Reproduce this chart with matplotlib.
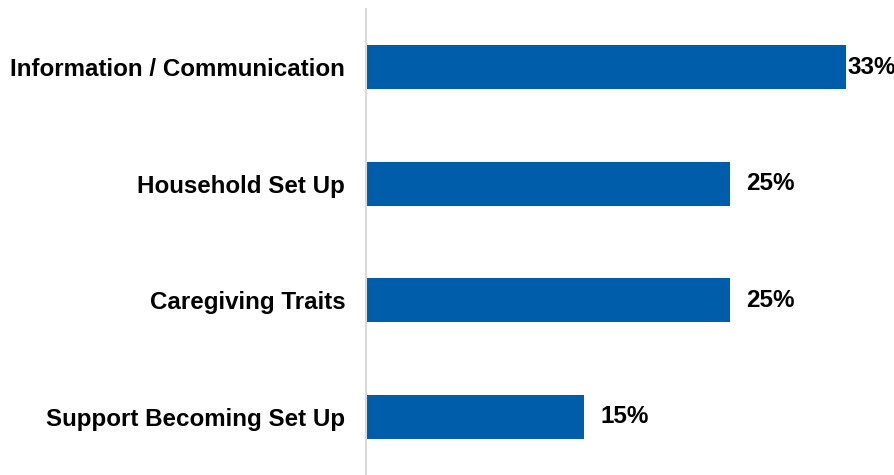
import matplotlib.pyplot as plt

plt.rcParams['font.family'] = ['Liberation Sans', 'DejaVu Sans']

categories = ["Information / Communication", "Household Set Up",
              "Caregiving Traits", "Support Becoming Set Up"]
values = [33, 25, 25, 15]
labels = ["33%", "25%", "25%", "15%"]

fig = plt.figure(figsize=(8.95, 4.75), dpi=100)
ax = fig.add_axes([366 / 895, 0, 529 / 895, 466 / 475])

pos = range(len(categories))
ax.barh(pos, values, height=0.376, color="#005DAA")

# value labels right of each bar; the widest one sits right against its bar
for i, (v, lab) in enumerate(zip(values, labels)):
    off = 0.1 if v == max(values) else 1.1
    ax.text(v + off, i, lab, va="center", ha="left",
            fontsize=17.5, fontweight="bold", color="#000000")

ax.set_xlim(0, 529 / 14.55)
ax.set_ylim(3.5, -0.5)
ax.set_yticks(list(pos))
ax.set_yticklabels(categories, fontsize=17.4, fontweight="bold")
ax.tick_params(axis="y", length=0, pad=15)
ax.set_xticks([])

for side in ["top", "right", "bottom"]:
    ax.spines[side].set_visible(False)
ax.spines["left"].set_color("#D9D9D9")
ax.spines["left"].set_linewidth(1.5)

fig.savefig("out.png", dpi=100)
